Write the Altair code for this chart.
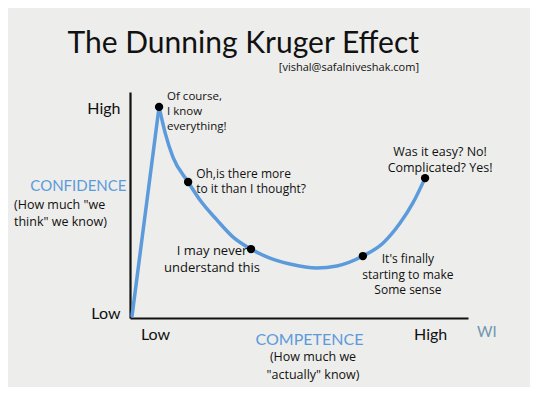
import altair as alt
import pandas as pd

# ---- data (competence 0-100, confidence 0-100) ----
rise_x = [0.6, 8.6]
rise_y = [0.9, 93.4]

curve_x = [8.6, 10.4, 12.7, 17.2, 20.7, 25.7, 30.5, 35.8, 41.4, 47.3, 55.3,
           61.2, 68.9, 74.9, 79.9, 83.7, 87.3]
curve_y = [93.4, 81.9, 71.2, 60.2, 52.2, 43.4, 35.8, 30.5, 26.5, 23.9, 22.1,
           23.0, 27.4, 33.2, 42.0, 50.9, 61.9]

dot_x = [8.6, 17.2, 35.8, 68.9, 87.3]
dot_y = [93.4, 60.2, 30.5, 27.4, 61.9]
dot_labels = [
    "Of course,\nI know\neverything!",
    "Oh,is there more\nto it than I thought?",
    "I may never\nunderstand this",
    "It's finally\nstarting to make\nSome sense",
    "Was it easy? No!\nComplicated? Yes!",
]

axis_ticks_x = [7.4, 88.8]
axis_ticks_y = [2.2, 92.9]
axis_labels = ["Low", "High"]

FONT = "Lato"
HAND = "Open Sans"
BLUE = "#5b9bdc"
INK = "#111111"

rise = pd.DataFrame({"x": rise_x, "y": rise_y})
curve = pd.DataFrame({"x": curve_x, "y": curve_y})
dots = pd.DataFrame({"x": dot_x, "y": dot_y, "t": dot_labels})

xs = alt.Scale(domain=[0, 100], nice=False, zero=False)
ys = alt.Scale(domain=[0, 100], nice=False, zero=False)

x_axis = alt.Axis(
    values=axis_ticks_x,
    labelExpr="datum.value < 50 ? '%s' : '%s'" % (axis_labels[0], axis_labels[1]),
    ticks=False, grid=False, domainColor=INK, domainWidth=2.2,
    labelFont=FONT, labelFontSize=16, labelColor=INK, labelPadding=8,
    labelFlush=False,
    title="COMPETENCE", titleColor=BLUE, titleFont=FONT, titleFontSize=16,
    titleFontWeight="normal", titleX=179, titleY=21, titleBaseline="middle",
    titleAlign="center",
)
y_axis = alt.Axis(
    values=axis_ticks_y,
    labelExpr="datum.value < 50 ? '%s' : '%s'" % (axis_labels[0], axis_labels[1]),
    ticks=False, grid=False, domainColor=INK, domainWidth=2.2,
    labelFont=FONT, labelFontSize=16, labelColor=INK, labelPadding=10,
    labelFlush=False,
    title="CONFIDENCE", titleColor=BLUE, titleFont=FONT, titleFontSize=15,
    titleFontWeight="normal", titleAngle=0, titleX=-4, titleY=93,
    titleAlign="right", titleBaseline="middle",
)

base_x = alt.X("x:Q", scale=xs, axis=x_axis)
base_y = alt.Y("y:Q", scale=ys, axis=y_axis)

rise_line = alt.Chart(rise).mark_line(color=BLUE, strokeWidth=3.5, strokeCap="round").encode(
    x=base_x, y=base_y)
curve_line = alt.Chart(curve).mark_line(color=BLUE, strokeWidth=3.5, interpolate="monotone",
                                        strokeCap="round").encode(x="x:Q", y="y:Q")
points = alt.Chart(dots).mark_circle(color="black", opacity=1, size=70).encode(x="x:Q", y="y:Q")

# offsets of each annotation's first line from its dot (style)
ann_style = [
    dict(align="left", dx=8, dy=-10, fontSize=11.5, lineHeight=15),
    dict(align="left", dx=8, dy=-8, fontSize=12, lineHeight=15.5),
    dict(align="center", dx=-39, dy=2, fontSize=13, lineHeight=17),
    dict(align="center", dx=45, dy=3, fontSize=12, lineHeight=15.5),
    dict(align="center", dx=15, dy=-26, fontSize=12.5, lineHeight=16),
]
ann_layers = []
for k, st in enumerate(ann_style):
    ann_layers.append(
        alt.Chart(dots.iloc[[k]]).mark_text(
            font=HAND, color=INK, baseline="middle", lineBreak="\n", **st
        ).encode(x="x:Q", y="y:Q", text="t:N")
    )

note = pd.DataFrame({"a": [0]})
y_note = alt.Chart(note).mark_text(
    font=HAND, fontSize=12.5, color=INK, align="left", baseline="middle",
    lineBreak="\n", lineHeight=17).encode(
    x=alt.value(-116), y=alt.value(113),
    text=alt.value('(How much "we\nthink" we know)'))
x_note = alt.Chart(note).mark_text(
    font=HAND, fontSize=12.5, color=INK, align="center", baseline="middle",
    lineBreak="\n", lineHeight=18).encode(
    x=alt.value(183), y=alt.value(265),
    text=alt.value('(How much we\n"actually" know)'))
cut_note = alt.Chart(note).mark_text(
    font=FONT, fontSize=15, color="#7196b0", align="left", baseline="middle").encode(
    x=alt.value(347), y=alt.value(240), text=alt.value("WI"))

chart = alt.layer(rise_line, curve_line, points, *ann_layers, y_note, x_note, cut_note).properties(
    width=338, height=226,
    autosize=alt.AutoSizeParams(type="none"),
    padding={"left": 122, "top": 84, "right": 62, "bottom": 69},
    background="#ededeb",
    title=alt.TitleParams(
        text="The Dunning Kruger Effect",
        subtitle="[vishal@safalniveshak.com]",
        anchor="end", frame="group", dx=-49, offset=18,
        font=FONT, fontSize=30, fontWeight="normal", color=INK,
        subtitleFont=HAND, subtitleFontSize=11, subtitleColor=INK,
        subtitlePadding=3,
    ),
).configure_view(strokeWidth=0)

chart.save("out.html", embed_options={"renderer": "svg", "actions": False})
